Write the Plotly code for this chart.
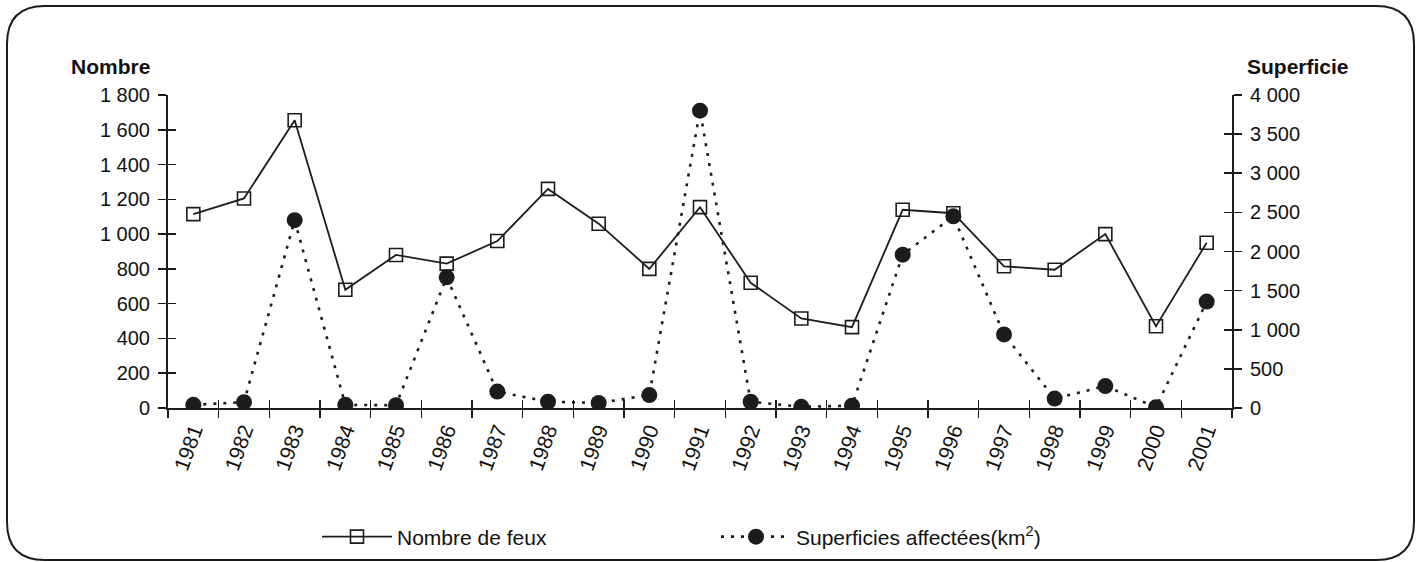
import plotly.graph_objects as go

# ---- data ----
years = ["1981", "1982", "1983", "1984", "1985", "1986", "1987", "1988", "1989", "1990",
         "1991", "1992", "1993", "1994", "1995", "1996", "1997", "1998", "1999", "2000", "2001"]
nombre_feux = [1115, 1205, 1655, 680, 880, 830, 960, 1260, 1060, 800,
               1155, 720, 515, 465, 1140, 1120, 815, 795, 1000, 470, 950]
superficies = [40, 75, 2400, 40, 35, 1670, 210, 80, 65, 165,
               3800, 80, 15, 30, 1960, 2450, 940, 120, 280, 10, 1360]

left_tickvals = [0, 200, 400, 600, 800, 1000, 1200, 1400, 1600, 1800]
left_ticktext = ["0", "200", "400", "600", "800", "1 000", "1 200", "1 400", "1 600", "1 800"]
right_tickvals = [0, 500, 1000, 1500, 2000, 2500, 3000, 3500, 4000]
right_ticktext = ["0", "500", "1 000", "1 500", "2 000", "2 500", "3 000", "3 500", "4 000"]

name_nombre = "Nombre de feux"
name_superf = "Superficies affectées(km<sup>2</sup>)"
title_left = "<b>Nombre</b>"
title_right = "<b>Superficie</b>"

# ---- layout geometry (pixels) ----
W, H = 1421, 562
ML, MR, MT, MB = 168, 189, 95, 154
PW, PH = W - ML - MR, H - MT - MB
INK = "#1c1c1c"
FONT = "Liberation Sans, Arial, sans-serif"


def px_x(p):
    return (p - ML) / PW


def px_y(p):
    return (H - MB - p) / PH


fig = go.Figure()
fig.add_trace(go.Scatter(
    x=years, y=nombre_feux, name=name_nombre, mode="lines+markers",
    line=dict(color=INK, width=1.8),
    marker=dict(symbol="square-open", size=13, color=INK, line=dict(width=1.6, color=INK)),
    xaxis="x", yaxis="y", hoverinfo="x+y",
))
fig.add_trace(go.Scatter(
    x=years, y=superficies, name=name_superf, mode="lines+markers",
    line=dict(color=INK, width=2.6, dash="3px,7px"),
    marker=dict(symbol="circle", size=16, color=INK),
    xaxis="x", yaxis="y2", hoverinfo="x+y",
))
# helper traces so the inward-tick overlay axes are drawn
fig.add_trace(go.Scatter(x=years, y=[None] * len(years), xaxis="x2", yaxis="y3",
                         showlegend=False, hoverinfo="skip", mode="lines"))
fig.add_trace(go.Scatter(x=years, y=[None] * len(years), xaxis="x", yaxis="y4",
                         showlegend=False, hoverinfo="skip", mode="lines"))

common_tick = dict(tickwidth=1.6, tickcolor=INK, ticklen=8, showgrid=False, zeroline=False,
                   automargin=False)

# rounded frame around the figure
L, T, R, B, r = 7, 6, 1414, 560, 38
xs = {k: px_x(v) for k, v in dict(L=L, R=R, Lr=L + r, Rr=R - r).items()}
ys = {k: px_y(v) for k, v in dict(T=T, B=B, Tr=T + r, Br=B - r).items()}
path = (f"M{xs['Lr']},{ys['T']} L{xs['Rr']},{ys['T']} Q{xs['R']},{ys['T']} {xs['R']},{ys['Tr']} "
        f"L{xs['R']},{ys['Br']} Q{xs['R']},{ys['B']} {xs['Rr']},{ys['B']} "
        f"L{xs['Lr']},{ys['B']} Q{xs['L']},{ys['B']} {xs['L']},{ys['Br']} "
        f"L{xs['L']},{ys['Tr']} Q{xs['L']},{ys['T']} {xs['Lr']},{ys['T']} Z")

fig.update_layout(
    width=W, height=H, autosize=False,
    margin=dict(l=ML, r=MR, t=MT, b=MB),
    paper_bgcolor="white", plot_bgcolor="white",
    font=dict(family=FONT, color="#111", size=20),
    showlegend=True,
    xaxis=dict(type="category", categoryorder="array", categoryarray=years,
               range=[-0.5, len(years) - 0.5], tickson="boundaries", ticks="outside",
               showline=True, linecolor=INK, linewidth=2, tickangle=-70,
               tickfont=dict(size=21, color="#111"), anchor="y", **common_tick),
    xaxis2=dict(type="category", categoryorder="array", categoryarray=years,
                range=[-0.5, len(years) - 0.5], tickson="boundaries", ticks="inside",
                overlaying="x", anchor="y", side="bottom", showticklabels=False,
                showline=False, **common_tick),
    yaxis=dict(range=[0, 1800], tickmode="array", tickvals=left_tickvals, ticktext=left_ticktext,
               ticks="outside", showline=True, linecolor=INK, linewidth=2,
               tickfont=dict(size=20, color="#111"), ticklabelstandoff=4, anchor="x",
               **common_tick),
    yaxis2=dict(range=[0, 4000], tickmode="array", tickvals=right_tickvals, ticktext=right_ticktext,
                ticks="outside", showline=True, linecolor=INK, linewidth=2, side="right",
                overlaying="y", anchor="x", tickfont=dict(size=20, color="#111"),
                ticklabelstandoff=4, **common_tick),
    yaxis3=dict(range=[0, 1800], tickmode="array", tickvals=left_tickvals, ticks="inside",
                showticklabels=False, showline=False, overlaying="y", side="left", anchor="x2",
                **common_tick),
    yaxis4=dict(range=[0, 4000], tickmode="array", tickvals=right_tickvals, ticks="inside",
                showticklabels=False, showline=False, overlaying="y", side="right", anchor="x",
                **common_tick),
    legend=dict(orientation="h", xref="container", yref="container",
                x=317 / W, xanchor="left", y=(H - 537) / H, yanchor="middle",
                font=dict(size=21, color="#111"), itemwidth=70, entrywidth=314,
                bgcolor="rgba(0,0,0,0)", traceorder="normal"),
    annotations=[
        dict(text=title_left, xref="paper", yref="paper", x=px_x(152), y=px_y(66),
             xanchor="right", yanchor="middle", showarrow=False, font=dict(size=21, color="#111")),
        dict(text=title_right, xref="paper", yref="paper", x=px_x(1245), y=px_y(66),
             xanchor="left", yanchor="middle", showarrow=False, font=dict(size=21, color="#111")),
    ],
    shapes=[dict(type="path", xref="paper", yref="paper", path=path,
                 line=dict(color=INK, width=2), fillcolor="rgba(0,0,0,0)", layer="below")],
)

fig.write_html("out.html",
               config={"responsive": False, "displayModeBar": False, "staticPlot": True},
               post_script="document.body.style.margin='0px';document.body.style.overflow='hidden';")
